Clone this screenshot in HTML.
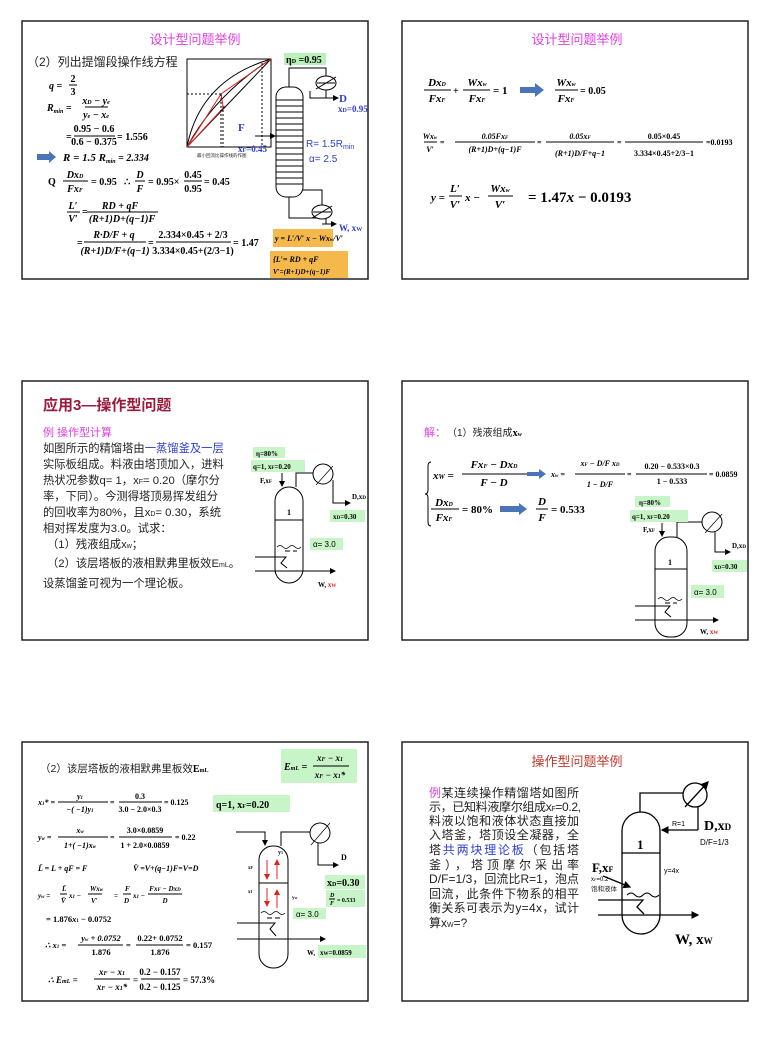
<!DOCTYPE html>
<html><head><meta charset="utf-8"><style>
html,body{margin:0;padding:0;background:#fff;}
svg{display:block}
.m{font-family:"Liberation Serif",serif;font-weight:bold;font-style:italic;font-size:10px;fill:#000}
.n{font-family:"Liberation Serif",serif;font-weight:bold;font-size:10px;fill:#000}
.c{font-family:"Liberation Sans","Noto Sans CJK SC",sans-serif;font-size:11px;fill:#222}
.s{font-family:"Liberation Sans",sans-serif;font-size:10px}
</style></head><body>
<svg width="770" height="1055" viewBox="0 0 770 1055" xmlns="http://www.w3.org/2000/svg">
<defs>
<marker id="ah" markerWidth="6" markerHeight="6" refX="5" refY="3" orient="auto"><path d="M0,0 L6,3 L0,6 z" fill="#000"/></marker>
<marker id="ar" markerWidth="6" markerHeight="6" refX="5" refY="3" orient="auto"><path d="M0,0 L6,3 L0,6 z" fill="#d22"/></marker>
</defs>
<rect width="770" height="1055" fill="#fff"/>
<g fill="none" stroke="#222" stroke-width="1.5">
<rect x="22" y="21" width="346" height="258"/>
<rect x="402" y="21" width="346" height="258"/>
<rect x="22" y="381" width="346" height="259"/>
<rect x="402" y="381" width="346" height="259"/>
<rect x="22" y="742" width="346" height="259"/>
<rect x="402" y="742" width="346" height="259"/>
</g>

<!-- ===== SLIDE 1 ===== -->
<text x="195" y="44" text-anchor="middle" class="c" style="fill:#e040e0;font-size:13px">设计型问题举例</text>
<text x="27" y="66" class="c" style="font-size:12px">（2）列出提馏段操作线方程</text>
<text x="49" y="89" class="m">q =</text>
<text x="73" y="82" class="n" text-anchor="middle">2</text><line x1="69" y1="85" x2="77" y2="85" stroke="#000"/><text x="73" y="95" class="n" text-anchor="middle">3</text>
<text x="47" y="111" class="m">R<tspan font-size="6" dy="2">min</tspan><tspan dy="-2"> =</tspan></text>
<text x="96" y="104" class="m" text-anchor="middle">x<tspan font-size="6">D</tspan> − y<tspan font-size="6">e</tspan></text><line x1="85" y1="107" x2="108" y2="107" stroke="#000"/><text x="96" y="118" class="m" text-anchor="middle">y<tspan font-size="6">e</tspan> − x<tspan font-size="6">e</tspan></text>
<text x="66" y="140" class="n">=</text>
<text x="94" y="132" class="n" text-anchor="middle">0.95 − 0.6</text><line x1="74" y1="136" x2="115" y2="136" stroke="#000"/><text x="94" y="145" class="n" text-anchor="middle">0.6 − 0.375</text>
<text x="117" y="140" class="n">= 1.556</text>
<path d="M37,154 h12 v-3 l7,6 l-7,6 v-3 h-12 z" fill="#4a74b8"/>
<text x="63" y="161" class="m" style="font-size:11px">R = 1.5 R<tspan font-size="6" dy="2">min</tspan><tspan dy="-2" class="n"> = 2.334</tspan></text>
<text x="48" y="185" class="n">Q</text>
<text x="75" y="178" class="m" text-anchor="middle">Dx<tspan font-size="6">D</tspan></text><line x1="63" y1="181" x2="88" y2="181" stroke="#000"/><text x="75" y="192" class="m" text-anchor="middle">Fx<tspan font-size="6">F</tspan></text>
<text x="91" y="185" class="n">= 0.95</text>
<text x="124" y="185" class="n">∴</text>
<text x="140" y="178" class="m" text-anchor="middle">D</text><line x1="135" y1="181" x2="145" y2="181" stroke="#000"/><text x="140" y="192" class="m" text-anchor="middle">F</text>
<text x="148" y="185" class="n">= 0.95×</text>
<text x="193" y="178" class="n" text-anchor="middle">0.45</text><line x1="184" y1="181" x2="202" y2="181" stroke="#000"/><text x="193" y="192" class="n" text-anchor="middle">0.95</text>
<text x="204" y="185" class="n">= 0.45</text>
<text x="73" y="209" class="m" text-anchor="middle">L′</text><line x1="67" y1="212" x2="80" y2="212" stroke="#000"/><text x="73" y="222" class="m" text-anchor="middle">V′</text>
<text x="82" y="215" class="n">=</text>
<text x="120" y="209" class="m" text-anchor="middle">RD + qF</text><line x1="87" y1="212" x2="158" y2="212" stroke="#000"/><text x="122" y="222" class="m" text-anchor="middle">(R+1)D+(q−1)F</text>
<text x="77" y="246" class="n">=</text>
<text x="114" y="238" class="m" text-anchor="middle">R·D/F + q</text><line x1="84" y1="242" x2="146" y2="242" stroke="#000"/><text x="115" y="254" class="m" text-anchor="middle">(R+1)D/F+(q−1)</text>
<text x="148" y="246" class="n">=</text>
<text x="193" y="238" class="n" text-anchor="middle">2.334×0.45 + 2/3</text><line x1="156" y1="242" x2="231" y2="242" stroke="#000"/><text x="193" y="254" class="n" text-anchor="middle">3.334×0.45+(2/3−1)</text>
<text x="233" y="246" class="n">= 1.47</text>
<rect x="187" y="59" width="84" height="88" fill="none" stroke="#000" stroke-width="1"/>
<line x1="187" y1="147" x2="271" y2="59" stroke="#000"/>
<path d="M187,147 Q200,80 271,59" fill="none" stroke="#000"/>
<path d="M187,147 Q215,95 271,59" fill="none" stroke="#000"/>
<path d="M187,147 L221,94 L271,59 M221,94 L223,106 M187,147 L225,106" fill="none" stroke="#d22"/>
<line x1="187" y1="94" x2="221" y2="94" stroke="#000" stroke-dasharray="2,2"/>
<line x1="221" y1="94" x2="221" y2="147" stroke="#000" stroke-dasharray="2,2"/>
<line x1="223" y1="106" x2="223" y2="147" stroke="#000" stroke-dasharray="2,2"/>
<line x1="262" y1="63" x2="262" y2="147" stroke="#000" stroke-dasharray="2,2"/>
<text x="197" y="157" class="c" style="font-size:4.5px">最小回流比操作线的作图</text>
<rect x="276" y="87" width="27" height="110" rx="10" fill="#fff" stroke="#000"/>
<g stroke="#000">
<line x1="276" y1="100" x2="303" y2="100"/><line x1="276" y1="106" x2="303" y2="106"/><line x1="276" y1="112" x2="303" y2="112"/><line x1="276" y1="118" x2="303" y2="118"/><line x1="276" y1="124" x2="303" y2="124"/><line x1="276" y1="130" x2="303" y2="130"/><line x1="276" y1="136" x2="303" y2="136"/><line x1="276" y1="142" x2="303" y2="142"/><line x1="276" y1="148" x2="303" y2="148"/><line x1="276" y1="154" x2="303" y2="154"/><line x1="276" y1="160" x2="303" y2="160"/><line x1="276" y1="166" x2="303" y2="166"/><line x1="276" y1="172" x2="303" y2="172"/><line x1="276" y1="178" x2="303" y2="178"/><line x1="276" y1="184" x2="303" y2="184"/>
</g>
<path d="M289,87 V68 H326 V76 M326,90 V98 H310 V91" fill="none" stroke="#000"/>
<ellipse cx="326" cy="83" rx="10" ry="7" fill="#fff" stroke="#000"/>
<line x1="316" y1="89" x2="336" y2="77" stroke="#000"/>
<line x1="317" y1="83" x2="335" y2="83" stroke="#000"/>
<line x1="326" y1="98" x2="338" y2="98" stroke="#000" marker-end="url(#ah)"/>
<rect x="284" y="53" width="42" height="12" fill="#b8f0b8"/>
<text x="286" y="63" class="n">η<tspan font-size="6">D</tspan> =0.95</text>
<text x="339" y="102" class="n" style="fill:#3040d0;font-size:11px">D</text>
<text x="338" y="112" class="n" style="fill:#3040d0;font-size:9px">x<tspan font-size="6">D</tspan>=0.95</text>
<text x="238" y="131" class="n" style="fill:#3040d0;font-size:11px">F</text>
<line x1="255" y1="136" x2="275" y2="136" stroke="#000" marker-end="url(#ah)"/>
<text x="238" y="152" class="n" style="fill:#3040d0;font-size:9px">x<tspan font-size="6">F</tspan>=0.45</text>
<text x="306" y="147" class="s" style="fill:#3040d0">R= 1.5R<tspan font-size="7" dy="2">min</tspan></text>
<text x="309" y="162" class="s" style="fill:#3040d0">α= 2.5</text>
<path d="M289,197 V218 H326 V224 M303,190 H322 V205" fill="none" stroke="#000"/>
<ellipse cx="322" cy="212" rx="10" ry="7" fill="#fff" stroke="#000"/>
<line x1="312" y1="218" x2="332" y2="206" stroke="#000"/>
<line x1="313" y1="212" x2="331" y2="212" stroke="#000"/>
<line x1="322" y1="224" x2="336" y2="224" stroke="#000" marker-end="url(#ah)"/>
<text x="339" y="231" class="n" style="fill:#3040d0;font-size:9px">W, x<tspan font-size="6">W</tspan></text>
<rect x="273" y="229" width="60" height="18" fill="#f5b84a"/>
<text x="275" y="241" class="m" style="font-size:8px">y = L′/V′ x − Wx<tspan font-size="5">w</tspan>/V′</text>
<rect x="270" y="251" width="78" height="27" fill="#f5b84a"/>
<text x="273" y="262" class="m" style="font-size:8px">{L′= RD + qF</text>
<text x="273" y="274" class="m" style="font-size:7px"> V′=(R+1)D+(q−1)F</text>

<!-- ===== SLIDE 2 ===== -->
<text x="577" y="44" text-anchor="middle" class="c" style="fill:#e040e0;font-size:13px">设计型问题举例</text>
<text x="437" y="86" class="m" style="font-size:11px" text-anchor="middle">Dx<tspan font-size="6">D</tspan></text><line x1="424" y1="90" x2="451" y2="90" stroke="#000"/><text x="437" y="102" class="m" style="font-size:11px" text-anchor="middle">Fx<tspan font-size="6">F</tspan></text>
<text x="453" y="94" class="n">+</text>
<text x="477" y="86" class="m" style="font-size:11px" text-anchor="middle">Wx<tspan font-size="6">w</tspan></text><line x1="463" y1="90" x2="490" y2="90" stroke="#000"/><text x="477" y="102" class="m" style="font-size:11px" text-anchor="middle">Fx<tspan font-size="6">F</tspan></text>
<text x="493" y="94" class="n" style="font-size:11px">= 1</text>
<path d="M520,87 h15 v-4 l9,7 l-9,7 v-4 h-15 z" fill="#4a74b8"/>
<text x="566" y="86" class="m" style="font-size:11px" text-anchor="middle">Wx<tspan font-size="6">w</tspan></text><line x1="555" y1="90" x2="578" y2="90" stroke="#000"/><text x="566" y="102" class="m" style="font-size:11px" text-anchor="middle">Fx<tspan font-size="6">F</tspan></text>
<text x="580" y="94" class="n">= 0.05</text>
<text x="430" y="139" class="m" style="font-size:8px" text-anchor="middle">Wx<tspan font-size="5">w</tspan></text><line x1="424" y1="142" x2="437" y2="142" stroke="#000"/><text x="430" y="152" class="m" style="font-size:8px" text-anchor="middle">V′</text>
<text x="440" y="145" class="n" style="font-size:8px">=</text>
<text x="495" y="139" class="m" style="font-size:8px" text-anchor="middle">0.05Fx<tspan font-size="5">F</tspan></text><line x1="455" y1="142" x2="535" y2="142" stroke="#000"/><text x="495" y="152" class="m" style="font-size:8px" text-anchor="middle">(R+1)D+(q−1)F</text>
<text x="537" y="145" class="n" style="font-size:8px">=</text>
<text x="580" y="139" class="m" style="font-size:8px" text-anchor="middle">0.05x<tspan font-size="5">F</tspan></text><line x1="546" y1="142" x2="614" y2="142" stroke="#000"/><text x="580" y="156" class="m" style="font-size:8px" text-anchor="middle">(R+1)D/F+q−1</text>
<text x="617" y="145" class="n" style="font-size:8px">=</text>
<text x="664" y="139" class="n" style="font-size:8px" text-anchor="middle">0.05×0.45</text><line x1="625" y1="142" x2="703" y2="142" stroke="#000"/><text x="664" y="156" class="n" style="font-size:8px" text-anchor="middle">3.334×0.45+2/3−1</text>
<text x="706" y="145" class="n" style="font-size:8px">=0.0193</text>
<text x="431" y="201" class="m" style="font-size:11px">y =</text>
<text x="455" y="192" class="m" style="font-size:11px" text-anchor="middle">L′</text><line x1="449" y1="196" x2="462" y2="196" stroke="#000"/><text x="455" y="208" class="m" style="font-size:11px" text-anchor="middle">V′</text>
<text x="465" y="201" class="m" style="font-size:11px">x −</text>
<text x="500" y="192" class="m" style="font-size:11px" text-anchor="middle">Wx<tspan font-size="6">w</tspan></text><line x1="488" y1="196" x2="513" y2="196" stroke="#000"/><text x="500" y="208" class="m" style="font-size:11px" text-anchor="middle">V′</text>
<text x="528" y="202" class="n" style="font-size:15px">= 1.47<tspan font-style="italic">x</tspan> − 0.0193</text>

<!-- ===== SLIDE 3 ===== -->
<text x="43" y="410" class="c" style="fill:#9a1a3a;font-size:15px;font-weight:bold">应用3—操作型问题</text>
<text x="43" y="436" class="c" style="fill:#e040e0;font-size:11px">例 操作型计算</text>
<g class="c" style="font-size:11.3px">
<text x="43" y="452">如图所示的精馏塔由<tspan fill="#3040d0">一蒸馏釜及一层</tspan></text>
<text x="43" y="468">实际板组成。料液由塔顶加入，进料</text>
<text x="43" y="484">热状况参数q= 1，x<tspan font-size="7">F</tspan>= 0.20（摩尔分</text>
<text x="43" y="500">率，下同）。今测得塔顶易挥发组分</text>
<text x="43" y="516">的回收率为80%，且x<tspan font-size="7">D</tspan>= 0.30，系统</text>
<text x="43" y="532">相对挥发度为3.0。试求：</text>
<text x="47" y="548">（1）残液组成x<tspan font-size="7">w</tspan>；</text>
<text x="47" y="567">（2）该层塔板的液相默弗里板效E<tspan font-size="7">mL</tspan>。</text>
<text x="43" y="587">设蒸馏釜可视为一个理论板。</text>
</g>
<rect x="275" y="487" width="28" height="96" rx="14" fill="#fff" stroke="#000"/>
<line x1="275" y1="520" x2="303" y2="520" stroke="#000"/>
<text x="287" y="515" class="n" style="font-size:8px">1</text>
<path d="M277,547 q3,-3 6,0 t6,0 t6,0 t6,0" fill="none" stroke="#000" stroke-width=".8"/>
<line x1="285" y1="551" x2="290" y2="551" stroke="#000"/><line x1="293" y1="551" x2="297" y2="551" stroke="#000"/>
<path d="M255,557 H286 L281,563 L287,568" fill="none" stroke="#000"/>
<line x1="255" y1="571" x2="335" y2="571" stroke="#000" marker-end="url(#ah)"/>
<line x1="282" y1="473" x2="282" y2="486" stroke="#000" marker-end="url(#ah)"/>
<path d="M296,487 V473 H313" fill="none" stroke="#000"/>
<circle cx="323" cy="474" r="10" fill="#fff" stroke="#000"/>
<line x1="316" y1="485" x2="333" y2="466" stroke="#000" stroke-width=".7"/>
<path d="M333,480 V503 H350" fill="none" stroke="#000" marker-end="url(#ah)"/>
<rect x="253" y="447" width="32" height="11" fill="#c8f5c8"/>
<text x="256" y="456" class="n" style="font-size:7px">η=80%</text>
<rect x="251" y="460" width="54" height="12" fill="#c8f5c8"/>
<text x="253" y="469" class="n" style="font-size:7px">q=1, x<tspan font-size="5">F</tspan>=0.20</text>
<text x="260" y="483" class="n" style="font-size:7px">F,x<tspan font-size="5">F</tspan></text>
<text x="352" y="499" class="n" style="font-size:7px">D,x<tspan font-size="5">D</tspan></text>
<rect x="330" y="510" width="35" height="12" fill="#c8f5c8"/>
<text x="333" y="519" class="n" style="font-size:7px">x<tspan font-size="5">D</tspan>=0.30</text>
<rect x="310" y="538" width="33" height="12" fill="#c8f5c8"/>
<text x="313" y="547" class="s" style="font-size:8px">α= 3.0</text>
<text x="318" y="587" class="n" style="font-size:7px">W, <tspan fill="#d22">x<tspan font-size="5">W</tspan></tspan></text>

<!-- ===== SLIDE 4 ===== -->
<text x="424" y="436" class="c" style="fill:#e040e0;font-size:11px">解：</text>
<text x="447" y="436" class="c" style="font-size:10px">（1）残液组成<tspan class="n">x<tspan font-size="6">w</tspan></tspan></text>
<path d="M431,462 q-3,0 -3,4 v24 q0,4 -3,4 q3,0 3,4 v24 q0,4 3,4" fill="none" stroke="#000"/>
<text x="433" y="479" class="m" style="font-size:11px">x<tspan font-size="7">W</tspan> =</text>
<text x="494" y="468" class="m" style="font-size:11px" text-anchor="middle">Fx<tspan font-size="6">F</tspan> − Dx<tspan font-size="6">D</tspan></text><line x1="462" y1="474" x2="527" y2="474" stroke="#000"/><text x="494" y="486" class="m" style="font-size:11px" text-anchor="middle">F − D</text>
<path d="M527,472 h12 v-3 l7,5 l-7,5 v-3 h-12 z" fill="#4a74b8"/>
<text x="551" y="477" class="m" style="font-size:8px">x<tspan font-size="5">w</tspan> =</text>
<text x="600" y="466" class="m" style="font-size:8px" text-anchor="middle">x<tspan font-size="5">F</tspan> − D/F x<tspan font-size="5">D</tspan></text><line x1="575" y1="474" x2="625" y2="474" stroke="#000"/><text x="600" y="487" class="m" style="font-size:8px" text-anchor="middle">1 − D/F</text>
<text x="627" y="477" class="n" style="font-size:8px">=</text>
<text x="672" y="469" class="n" style="font-size:8px" text-anchor="middle">0.20 − 0.533×0.3</text><line x1="636" y1="474" x2="707" y2="474" stroke="#000"/><text x="672" y="484" class="n" style="font-size:8px" text-anchor="middle">1 − 0.533</text>
<text x="709" y="477" class="n" style="font-size:8px">= 0.0859</text>
<text x="444" y="506" class="m" style="font-size:11px" text-anchor="middle">Dx<tspan font-size="6">D</tspan></text><line x1="431" y1="509" x2="459" y2="509" stroke="#000"/><text x="444" y="521" class="m" style="font-size:11px" text-anchor="middle">Fx<tspan font-size="6">F</tspan></text>
<text x="462" y="513" class="n" style="font-size:11px">= 80%</text>
<path d="M500,506 h19 v-3 l8,6 l-8,6 v-3 h-19 z" fill="#4a74b8"/>
<text x="542" y="505" class="m" style="font-size:11px" text-anchor="middle">D</text><line x1="536" y1="509" x2="548" y2="509" stroke="#000"/><text x="542" y="521" class="m" style="font-size:11px" text-anchor="middle">F</text>
<text x="551" y="513" class="n" style="font-size:11px">= 0.533</text>
<rect x="655" y="537" width="32" height="100" rx="14" fill="#fff" stroke="#000"/>
<line x1="655" y1="569" x2="687" y2="569" stroke="#000"/>
<text x="668" y="565" class="n" style="font-size:8px">1</text>
<path d="M658,599 q3,-3 6,0 t6,0 t6,0 t6,0" fill="none" stroke="#000" stroke-width=".8"/>
<line x1="665" y1="603" x2="670" y2="603" stroke="#000"/><line x1="673" y1="603" x2="677" y2="603" stroke="#000"/>
<path d="M635,606 H670 L665,612 L671,617" fill="none" stroke="#000"/>
<line x1="635" y1="620" x2="718" y2="620" stroke="#000" marker-end="url(#ah)"/>
<line x1="662" y1="523" x2="662" y2="536" stroke="#000" marker-end="url(#ah)"/>
<path d="M677,537 V522 H702" fill="none" stroke="#000"/>
<circle cx="712" cy="522" r="10" fill="#fff" stroke="#000"/>
<line x1="705" y1="533" x2="722" y2="514" stroke="#000" stroke-width=".7"/>
<path d="M715,532 V552 H730" fill="none" stroke="#000" marker-end="url(#ah)"/>
<rect x="635" y="496" width="35" height="11" fill="#c8f5c8"/>
<text x="639" y="505" class="n" style="font-size:7px">η=80%</text>
<rect x="630" y="510" width="58" height="12" fill="#c8f5c8"/>
<text x="632" y="519" class="n" style="font-size:7px">q=1, x<tspan font-size="5">F</tspan>=0.20</text>
<text x="643" y="532" class="n" style="font-size:7px">F,x<tspan font-size="5">F</tspan></text>
<text x="732" y="548" class="n" style="font-size:7px">D,x<tspan font-size="5">D</tspan></text>
<rect x="712" y="560" width="35" height="12" fill="#c8f5c8"/>
<text x="714" y="569" class="n" style="font-size:7px">x<tspan font-size="5">D</tspan>=0.30</text>
<rect x="691" y="585" width="33" height="13" fill="#c8f5c8"/>
<text x="694" y="595" class="s" style="font-size:8px">α= 3.0</text>
<text x="700" y="634" class="n" style="font-size:7px">W, <tspan fill="#d22">x<tspan font-size="5">W</tspan></tspan></text>

<!-- ===== SLIDE 5 ===== -->
<text x="40" y="772" class="c" style="font-size:10.5px">（2）该层塔板的液相默弗里板效<tspan class="n">E<tspan font-size="6">mL</tspan></tspan></text>
<rect x="281" y="749" width="76" height="34" fill="#c8f5c8"/>
<text x="284" y="770" class="m" style="font-size:10px">E<tspan font-size="6">mL</tspan> =</text>
<text x="330" y="761" class="m" style="font-size:9px" text-anchor="middle">x<tspan font-size="6">F</tspan> − x<tspan font-size="6">1</tspan></text><line x1="313" y1="766" x2="349" y2="766" stroke="#000"/><text x="330" y="778" class="m" style="font-size:9px" text-anchor="middle">x<tspan font-size="6">F</tspan> − x<tspan font-size="6">1</tspan>*</text>
<text x="38" y="805" class="m" style="font-size:8px">x<tspan font-size="5">1</tspan>* =</text>
<text x="80" y="799" class="m" style="font-size:8px" text-anchor="middle">y<tspan font-size="5">1</tspan></text><line x1="58" y1="802" x2="108" y2="802" stroke="#000"/><text x="80" y="812" class="m" style="font-size:8px" text-anchor="middle">−( −1)y<tspan font-size="5">1</tspan></text>
<text x="110" y="805" class="n" style="font-size:8px">=</text>
<text x="140" y="799" class="n" style="font-size:8px" text-anchor="middle">0.3</text><line x1="119" y1="802" x2="162" y2="802" stroke="#000"/><text x="140" y="812" class="n" style="font-size:8px" text-anchor="middle">3.0 − 2.0×0.3</text>
<text x="164" y="805" class="n" style="font-size:8px">= 0.125</text>
<rect x="213" y="795" width="77" height="17" fill="#c8f5c8"/>
<text x="216" y="808" class="n" style="font-size:10px">q=1, x<tspan font-size="6">F</tspan>=0.20</text>
<text x="38" y="840" class="m" style="font-size:8px">y<tspan font-size="5">w</tspan> =</text>
<text x="80" y="833" class="m" style="font-size:8px" text-anchor="middle">x<tspan font-size="5">w</tspan></text><line x1="58" y1="837" x2="108" y2="837" stroke="#000"/><text x="80" y="848" class="m" style="font-size:8px" text-anchor="middle">1+( −1)x<tspan font-size="5">w</tspan></text>
<text x="110" y="840" class="n" style="font-size:8px">=</text>
<text x="145" y="833" class="n" style="font-size:8px" text-anchor="middle">3.0×0.0859</text><line x1="119" y1="837" x2="172" y2="837" stroke="#000"/><text x="145" y="848" class="n" style="font-size:8px" text-anchor="middle">1 + 2.0×0.0859</text>
<text x="175" y="840" class="n" style="font-size:8px">= 0.22</text>
<text x="38" y="871" class="m" style="font-size:8px">L̄ = L + qF = F</text>
<text x="133" y="871" class="m" style="font-size:8px">V̄ =V+(q−1)F=V=D</text>
<text x="38" y="898" class="m" style="font-size:7px">y<tspan font-size="5">w</tspan> =</text>
<text x="62" y="891" class="m" style="font-size:7px">L̄</text><line x1="60" y1="894" x2="67" y2="894" stroke="#000"/><text x="61" y="903" class="m" style="font-size:7px">V̄</text>
<text x="69" y="898" class="m" style="font-size:7px">x<tspan font-size="5">1</tspan> −</text>
<text x="90" y="891" class="m" style="font-size:7px">Wx<tspan font-size="5">w</tspan></text><line x1="88" y1="894" x2="102" y2="894" stroke="#000"/><text x="91" y="903" class="m" style="font-size:7px">V′</text>
<text x="114" y="898" class="m" style="font-size:7px">=</text>
<text x="125" y="891" class="m" style="font-size:7px">F</text><line x1="123" y1="894" x2="131" y2="894" stroke="#000"/><text x="124" y="903" class="m" style="font-size:7px">D</text>
<text x="133" y="898" class="m" style="font-size:7px">x<tspan font-size="5">1</tspan> −</text>
<text x="165" y="891" class="m" style="font-size:7px" text-anchor="middle">Fx<tspan font-size="5">F</tspan> − Dx<tspan font-size="5">D</tspan></text><line x1="148" y1="894" x2="182" y2="894" stroke="#000"/><text x="165" y="903" class="m" style="font-size:7px" text-anchor="middle">D</text>
<text x="46" y="922" class="n" style="font-size:8.5px">= 1.876<tspan font-style="italic">x</tspan><tspan font-size="5">1</tspan> − 0.0752</text>
<text x="45" y="948" class="m" style="font-size:8.5px">∴ x<tspan font-size="5">1</tspan> =</text>
<text x="101" y="941" class="m" style="font-size:8.5px" text-anchor="middle">y<tspan font-size="5">w</tspan> + 0.0752</text><line x1="78" y1="945" x2="123" y2="945" stroke="#000"/><text x="101" y="955" class="n" style="font-size:8.5px" text-anchor="middle">1.876</text>
<text x="126" y="948" class="n" style="font-size:8.5px">=</text>
<text x="160" y="941" class="n" style="font-size:8.5px" text-anchor="middle">0.22+ 0.0752</text><line x1="136" y1="945" x2="183" y2="945" stroke="#000"/><text x="160" y="955" class="n" style="font-size:8.5px" text-anchor="middle">1.876</text>
<text x="186" y="948" class="n" style="font-size:8.5px">= 0.157</text>
<text x="48" y="983" class="m" style="font-size:9px">∴ E<tspan font-size="6">mL</tspan> =</text>
<text x="112" y="975" class="m" style="font-size:9px" text-anchor="middle">x<tspan font-size="6">F</tspan> − x<tspan font-size="6">1</tspan></text><line x1="94" y1="979" x2="130" y2="979" stroke="#000"/><text x="112" y="990" class="m" style="font-size:9px" text-anchor="middle">x<tspan font-size="6">F</tspan> − x<tspan font-size="6">1</tspan>*</text>
<text x="133" y="983" class="n" style="font-size:9px">=</text>
<text x="160" y="975" class="n" style="font-size:9px" text-anchor="middle">0.2 − 0.157</text><line x1="141" y1="979" x2="180" y2="979" stroke="#000"/><text x="160" y="990" class="n" style="font-size:9px" text-anchor="middle">0.2 − 0.125</text>
<text x="183" y="983" class="n" style="font-size:9px">= 57.3%</text>
<rect x="259" y="846" width="29" height="122" rx="14" fill="#fff" stroke="#000"/>
<line x1="259" y1="883" x2="288" y2="883" stroke="#000"/>
<text x="278" y="854" class="n" style="font-size:6px">y<tspan font-size="4">1</tspan></text>
<text x="248" y="869" class="n" style="font-size:5px">x<tspan font-size="4">F</tspan></text>
<text x="248" y="893" class="n" style="font-size:5px">x<tspan font-size="4">1</tspan></text>
<text x="292" y="899" class="n" style="font-size:5px">y<tspan font-size="4">w</tspan></text>
<line x1="267" y1="860" x2="267" y2="879" stroke="#e22" marker-end="url(#ar)"/>
<line x1="277" y1="879" x2="277" y2="860" stroke="#e22" marker-end="url(#ar)"/>
<line x1="267" y1="888" x2="267" y2="906" stroke="#e22" marker-end="url(#ar)"/>
<line x1="277" y1="908" x2="277" y2="890" stroke="#e22" marker-end="url(#ar)"/>
<path d="M261,913 q3,-3 6,0 t6,0 t6,0 t6,0" fill="none" stroke="#000" stroke-width=".8"/>
<line x1="267" y1="918" x2="272" y2="918" stroke="#000"/><line x1="275" y1="918" x2="280" y2="918" stroke="#000"/>
<path d="M237,923 H275 L270,929 L276,936" fill="none" stroke="#000"/>
<line x1="237" y1="939" x2="325" y2="939" stroke="#000" marker-end="url(#ah)"/>
<path d="M236,832 H265 V845" fill="none" stroke="#000" marker-end="url(#ah)"/>
<path d="M281,846 V832 H310" fill="none" stroke="#000"/>
<circle cx="320" cy="833" r="10" fill="#fff" stroke="#000"/>
<line x1="311" y1="845" x2="330" y2="823" stroke="#000" stroke-width=".7"/>
<path d="M318,843 V865 H338" fill="none" stroke="#000" marker-end="url(#ah)"/>
<text x="341" y="860" class="n" style="font-size:8px">D</text>
<rect x="325" y="875" width="40" height="14" fill="#c8f5c8"/>
<text x="327" y="886" class="n" style="font-size:10px">x<tspan font-size="6">D</tspan>=0.30</text>
<rect x="326" y="890" width="39" height="17" fill="#c8f5c8"/>
<text x="330" y="897" class="m" style="font-size:6px">D</text><line x1="329" y1="899" x2="335" y2="899" stroke="#000"/><text x="330" y="905" class="m" style="font-size:6px">F</text>
<text x="337" y="902" class="n" style="font-size:6px">= 0.533</text>
<rect x="293" y="908" width="33" height="11" fill="#c8f5c8"/>
<text x="296" y="917" class="s" style="font-size:8px">α= 3.0</text>
<text x="307" y="955" class="n" style="font-size:7px">W,</text>
<rect x="318" y="945" width="48" height="13" fill="#c8f5c8"/>
<text x="320" y="955" class="n" style="font-size:7px">x<tspan font-size="5">W</tspan>=0.0859</text>

<!-- ===== SLIDE 6 ===== -->
<text x="577" y="766" text-anchor="middle" class="c" style="fill:#c0392b;font-size:13px">操作型问题举例</text>
<g class="c" style="font-size:12px">
<text x="429" y="797" textLength="150"><tspan fill="#e040e0">例</tspan>某连续操作精馏塔如图所</text>
<text x="429" y="811" textLength="152">示，已知料液摩尔组成x<tspan font-size="7">F</tspan>=0.2,</text>
<text x="429" y="825" textLength="150">料液以饱和液体状态直接加</text>
<text x="429" y="839" textLength="150">入塔釜，塔顶设全凝器，全</text>
<text x="429" y="854" textLength="150">塔<tspan fill="#3040d0">共两块理论板</tspan>（包括塔</text>
<text x="429" y="869" textLength="150">釜），塔顶摩尔采出率</text>
<text x="429" y="883" textLength="150">D/F=1/3，回流比R=1，泡点</text>
<text x="429" y="898" textLength="150">回流，此条件下物系的相平</text>
<text x="429" y="912" textLength="150">衡关系可表示为y=4x，试计</text>
<text x="429" y="927">算x<tspan font-size="7">W</tspan>=?</text>
</g>
<rect x="622" y="812" width="38" height="122" rx="19" fill="#fff" stroke="#000" stroke-width="1.3"/>
<line x1="622" y1="853" x2="660" y2="853" stroke="#000" stroke-width="1.3"/>
<text x="637" y="849" class="n" style="font-size:13px">1</text>
<path d="M640,812 V793 H683" fill="none" stroke="#000" stroke-width="1.3"/>
<circle cx="695" cy="795" r="12" fill="#fff" stroke="#000" stroke-width="1.3"/>
<line x1="685" y1="807" x2="708" y2="782" stroke="#000" stroke-width="1.3" marker-end="url(#ah)"/>
<path d="M698,807 V830" fill="none" stroke="#000" stroke-width="1.3"/>
<line x1="698" y1="830" x2="662" y2="830" stroke="#000" stroke-width="1.3" marker-end="url(#ah)"/>
<text x="672" y="826" class="s" style="font-size:7px">R=1</text>
<text x="704" y="830" class="n" style="font-size:14px">D,x<tspan font-size="9">D</tspan></text>
<text x="700" y="845" class="s" style="font-size:8px">D/F=1/3</text>
<text x="592" y="872" class="n" style="font-size:13px">F,x<tspan font-size="8">F</tspan></text>
<text x="591" y="881" class="s" style="font-size:6px">x<tspan font-size="4">F</tspan>=0.2</text>
<text x="591" y="891" class="c" style="font-size:6.5px">饱和液体</text>
<line x1="603" y1="876" x2="630" y2="887" stroke="#000" stroke-width="1.3" marker-end="url(#ah)"/>
<text x="664" y="873" class="s" style="font-size:7px">y=4x</text>
<path d="M627,895 q4,-4 8,0 t8,0 t8,0 t8,0" fill="none" stroke="#000"/>
<path d="M598,900 H643 L637,907 L644,914" fill="none" stroke="#000" stroke-width="1.3"/>
<line x1="598" y1="915" x2="698" y2="915" stroke="#000" stroke-width="1.3" marker-end="url(#ah)"/>
<text x="675" y="944" class="n" style="font-size:15px">W, x<tspan font-size="9">W</tspan></text>
</svg>
</body></html>
